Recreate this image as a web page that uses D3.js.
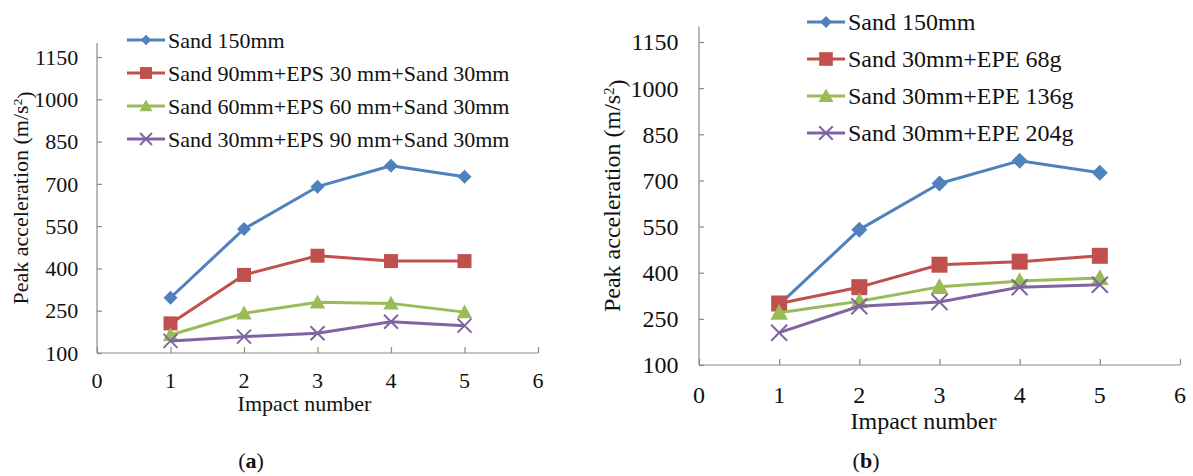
<!DOCTYPE html>
<html>
<head>
<meta charset="utf-8">
<script src="https://cdn.jsdelivr.net/npm/d3@7"></script>
<style>
  body { margin: 0; background: #fff; }
  svg { display: block; font-family: "Liberation Serif", "Times New Roman", serif; }
</style>
</head>
<body>
<svg width="1193" height="476"></svg>
<script>
// data
var impacts = [1, 2, 3, 4, 5];
var xTicks = [0, 1, 2, 3, 4, 5, 6];
var yTicks = [100, 250, 400, 550, 700, 850, 1000, 1150];

var sand150 = [296, 540, 690, 764, 725];
// panel (a): EPS layers
var eps30 = [205, 377, 445, 426, 426];
var eps60 = [164, 241, 280, 276, 245];
var eps90 = [143, 158, 170, 211, 197];
// panel (b): EPE mass
var epe68 = [300, 353, 426, 436, 455];
var epe136 = [270, 307, 354, 373, 383];
var epe204 = [205, 291, 305, 353, 361];

var namesA = ["Sand 150mm", "Sand 90mm+EPS 30 mm+Sand 30mm", "Sand 60mm+EPS 60 mm+Sand 30mm", "Sand 30mm+EPS 90 mm+Sand 30mm"];
var namesB = ["Sand 150mm", "Sand 30mm+EPE 68g", "Sand 30mm+EPE 136g", "Sand 30mm+EPE 204g"];

var colors = ["#4F81BD", "#C0504D", "#9BBB59", "#8064A2"];
var shapes = ["diamond", "square", "triangle", "cross"];

var SERIF = "'Liberation Serif', 'Times New Roman', serif";
var svg = d3.select("svg");

function txt(g, size) {
    return g.append("text").style("font-family", SERIF).style("font-size", size + "px").attr("fill", "#111");
}

function marker(g, shape, color, s) {
    if (shape == "diamond") {
        g.append("path").attr("d", "M0," + (-s) + "L" + s + ",0L0," + s + "L" + (-s) + ",0Z").attr("fill", color);
    } else if (shape == "square") {
        g.append("rect").attr("x", -s).attr("y", -s).attr("width", 2 * s).attr("height", 2 * s).attr("fill", color);
    } else if (shape == "triangle") {
        var h = s * 1.1;
        g.append("path").attr("d", "M0," + (-h) + "L" + h + "," + (h * 0.8) + "L" + (-h) + "," + (h * 0.8) + "Z").attr("fill", color);
    } else {
        g.append("path").attr("d", "M" + (-s) + "," + (-s) + "L" + s + "," + s + "M" + s + "," + (-s) + "L" + (-s) + "," + s)
            .attr("stroke", color).attr("stroke-width", 2).attr("fill", "none");
    }
}

function drawPanel(p) {
    var x = d3.scaleLinear().domain([0, 6]).range([p.left, p.right]);
    var y = d3.scaleLinear().domain([100, 1200]).range([p.bottom, p.bottom - (p.bottom - p.y1150) * 1100 / 1050]);
    var g = svg.append("g");

    // axes, Excel style ticks pointing inward
    var yAxis = g.append("g").attr("transform", "translate(" + p.left + ",0)")
        .call(d3.axisRight(y).tickValues(yTicks).tickSize(5).tickFormat(""));
    var xAxis = g.append("g").attr("transform", "translate(0," + p.bottom + ")")
        .call(d3.axisTop(x).tickValues(xTicks).tickSize(6).tickFormat(""));
    g.selectAll(".domain, .tick line").attr("stroke", "#8a8a8a").attr("stroke-width", 1.2);
    xAxis.select(".domain").attr("d", "M" + p.left + ",0H" + p.right);
    yAxis.select(".domain").attr("d", "M0," + y(1200) + "V" + p.bottom);

    yTicks.forEach(function (d) {
        txt(g, p.fs).attr("x", p.left - p.fs * 0.85).attr("y", y(d))
            .attr("dy", "0.35em").attr("text-anchor", "end").text(d);
    });
    xTicks.forEach(function (d) {
        txt(g, p.fs).attr("x", x(d)).attr("y", p.bottom + p.fs * 1.25)
            .attr("dy", "0.35em").attr("text-anchor", "middle").text(d);
    });

    txt(g, p.fs).attr("x", (p.left + p.right) / 2 - p.titleShift).attr("y", p.bottom + p.fs * 2.3)
        .attr("dy", "0.35em").attr("text-anchor", "middle").text("Impact number");

    var yt = txt(g, p.fs)
        .attr("transform", "translate(" + p.ytx + "," + (y(1200) + p.bottom) / 2 + ") rotate(-90)")
        .attr("dy", "0.35em").attr("text-anchor", "middle");
    yt.append("tspan").text("Peak acceleration (m/s");
    yt.append("tspan").attr("dy", "-0.45em").style("font-size", (p.fs * 0.6) + "px").text("2");
    yt.append("tspan").attr("dy", "0.45em").text(")");

    var line = d3.line().x(function (d, i) { return x(impacts[i]); }).y(function (d) { return y(d); });

    p.series.forEach(function (s, k) {
        g.append("path").datum(s).attr("d", line).attr("fill", "none")
            .attr("stroke", colors[k]).attr("stroke-width", 3).attr("stroke-linejoin", "round");
        s.forEach(function (v, i) {
            var m = g.append("g").attr("transform", "translate(" + x(impacts[i]) + "," + y(v) + ")");
            marker(m, shapes[k], colors[k], p.ms);
        });
    });

    // legend
    p.names.forEach(function (n, k) {
        var ly = p.legY + k * p.legStep;
        g.append("line").attr("x1", p.legX).attr("x2", p.legX + 38).attr("y1", ly).attr("y2", ly)
            .attr("stroke", colors[k]).attr("stroke-width", 3);
        var m = g.append("g").attr("transform", "translate(" + (p.legX + 19) + "," + ly + ")");
        marker(m, shapes[k], colors[k], shapes[k] == "diamond" ? p.ms * 0.75 : p.ms * 0.85);
        txt(g, p.fs).attr("x", p.legX + 41).attr("y", ly).attr("dy", "0.35em").text(n);
    });

    var c = txt(g, 22).attr("x", p.capX).attr("y", 460).attr("dy", "0.35em").attr("text-anchor", "middle");
    c.append("tspan").text("(");
    c.append("tspan").attr("font-weight", "bold").text(p.cap);
    c.append("tspan").text(")");
}

drawPanel({
    left: 97, right: 538, bottom: 353, y1150: 57, fs: 22, ytx: 20, titleShift: 13,
    series: [sand150, eps30, eps60, eps90], names: namesA,
    legX: 127, legY: 40, legStep: 33, ms: 7, cap: "a", capX: 251
});
drawPanel({
    left: 699, right: 1180, bottom: 365, y1150: 42, fs: 24, ytx: 612, titleShift: 16,
    series: [sand150, epe68, epe136, epe204], names: namesB,
    legX: 807, legY: 22, legStep: 37, ms: 8, cap: "b", capX: 866
});
</script>
</body>
</html>
